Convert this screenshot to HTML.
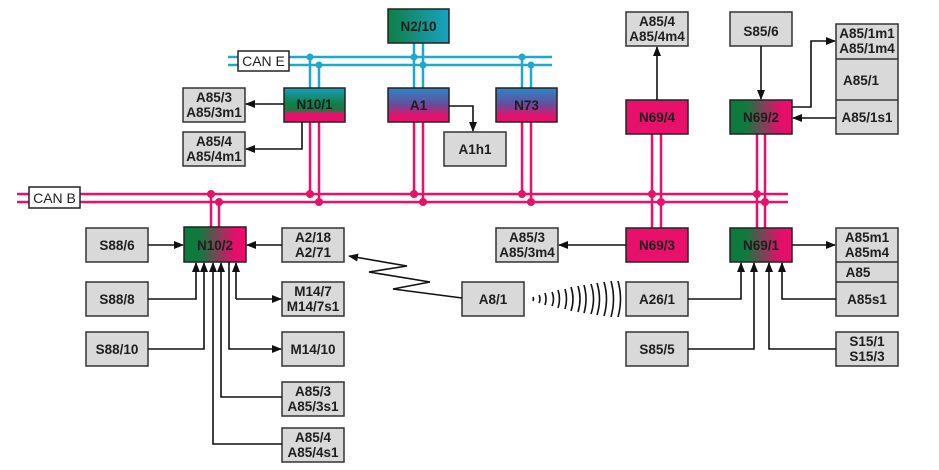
<!DOCTYPE html>
<html><head><meta charset="utf-8"><style>
html,body{margin:0;padding:0;background:#fff;}
svg{display:block;}
text{font-family:"Liberation Sans",Arial,sans-serif;font-weight:bold;font-size:13.5px;fill:#1e1e1e;text-anchor:middle;}
.b{fill:#d9d9d9;stroke:#333;stroke-width:1.5;}
.n{stroke:#222;stroke-width:1.5;}
.p{stroke:#e8106a;stroke-width:2.5;fill:none;}
.t{stroke:#1fa9c9;stroke-width:2.5;fill:none;}
.k{stroke:#111;stroke-width:1.6;fill:none;}
.w{stroke:#111;stroke-width:1.6;fill:none;}
</style></head><body>
<svg width="939" height="470" viewBox="0 0 939 470" xmlns="http://www.w3.org/2000/svg">
<defs>
<linearGradient id="gt" x1="0" x2="1" y1="0" y2="0"><stop offset="0" stop-color="#0e7f45"/><stop offset="1" stop-color="#17a4c4"/></linearGradient>
<linearGradient id="gp" x1="0" x2="1" y1="0" y2="0"><stop offset="0" stop-color="#0d7a3d"/><stop offset="0.25" stop-color="#0f7a3f"/><stop offset="0.8" stop-color="#e0106a"/><stop offset="1" stop-color="#ee0d6a"/></linearGradient>
<linearGradient id="gn" x1="0" x2="0" y1="0" y2="1"><stop offset="0" stop-color="#16a0c0"/><stop offset="0.45" stop-color="#127f48"/><stop offset="0.65" stop-color="#1a7a44"/><stop offset="0.75" stop-color="#e8106a"/><stop offset="1" stop-color="#e8106a"/></linearGradient>
<linearGradient id="gb" x1="0" x2="0" y1="0" y2="1"><stop offset="0" stop-color="#2a86c6"/><stop offset="0.5" stop-color="#6a4a9a"/><stop offset="0.8" stop-color="#e0146c"/><stop offset="1" stop-color="#e8106a"/></linearGradient>
<marker id="a" markerWidth="10" markerHeight="8" refX="9" refY="4" orient="auto" markerUnits="userSpaceOnUse"><path d="M0,0 L10,4 L0,8 Z" fill="#111"/></marker>
</defs>

<line class="t" x1="228" y1="57" x2="552" y2="57"/>
<line class="t" x1="228" y1="65" x2="552" y2="65"/>
<rect x="238" y="51" width="51" height="20" fill="#fff" stroke="#222" stroke-width="1.5"/>
<text x="263.5" y="66" style="font-weight:normal;font-size:14px">CAN E</text>
<line class="t" x1="414" y1="43" x2="414" y2="88"/><line class="t" x1="423" y1="43" x2="423" y2="88"/>
<line class="t" x1="310" y1="57" x2="310" y2="88"/><line class="t" x1="319" y1="65" x2="319" y2="88"/>
<line class="t" x1="522" y1="57" x2="522" y2="88"/><line class="t" x1="531" y1="65" x2="531" y2="88"/>
<g fill="#1fa9c9"><circle cx="310" cy="57" r="3.5"/><circle cx="319" cy="65" r="3.5"/><circle cx="414" cy="57" r="3.5"/><circle cx="423" cy="65" r="3.5"/><circle cx="522" cy="57" r="3.5"/><circle cx="531" cy="65" r="3.5"/></g>

<line class="p" x1="17" y1="194" x2="788" y2="194"/>
<line class="p" x1="17" y1="202" x2="788" y2="202"/>
<rect x="29" y="187" width="51" height="21" fill="#fff" stroke="#222" stroke-width="1.5"/>
<text x="54.5" y="203" style="font-weight:normal;font-size:14px">CAN B</text>
<line class="p" x1="310" y1="122" x2="310" y2="194"/><line class="p" x1="319" y1="122" x2="319" y2="202"/>
<line class="p" x1="414" y1="122" x2="414" y2="194"/><line class="p" x1="423" y1="122" x2="423" y2="202"/>
<line class="p" x1="522" y1="122" x2="522" y2="194"/><line class="p" x1="531" y1="122" x2="531" y2="202"/>
<line class="p" x1="211" y1="194" x2="211" y2="227"/><line class="p" x1="219" y1="202" x2="219" y2="227"/>
<line class="p" x1="652" y1="134" x2="652" y2="228"/><line class="p" x1="661" y1="134" x2="661" y2="228"/>
<line class="p" x1="757" y1="134" x2="757" y2="228"/><line class="p" x1="765" y1="134" x2="765" y2="228"/>
<g fill="#e8106a"><circle cx="310" cy="194" r="4"/><circle cx="319" cy="202" r="4"/><circle cx="414" cy="194" r="4"/><circle cx="423" cy="202" r="4"/><circle cx="522" cy="194" r="4"/><circle cx="531" cy="202" r="4"/><circle cx="211" cy="194" r="4"/><circle cx="219" cy="202" r="4"/><circle cx="652" cy="194" r="4"/><circle cx="661" cy="202" r="4"/><circle cx="757" cy="194" r="4"/><circle cx="765" cy="202" r="4"/></g>

<rect class="n" x="388" y="9" width="61" height="34" fill="url(#gt)"/><text x="418.5" y="31">N2/10</text>
<rect class="n" x="284" y="88" width="61" height="34" fill="url(#gn)"/><text x="314.5" y="109">N10/1</text>
<rect class="n" x="388" y="88" width="61" height="34" fill="url(#gb)"/><text x="418.5" y="110">A1</text>
<rect class="n" x="496" y="88" width="61" height="34" fill="url(#gb)"/><text x="526.5" y="110">N73</text>
<rect class="n" x="626" y="100" width="62" height="34" fill="#e8106a"/><text x="657" y="122">N69/4</text>
<rect class="n" x="730" y="100" width="62" height="34" fill="url(#gp)"/><text x="761" y="122">N69/2</text>
<rect class="n" x="184" y="227" width="62" height="35" fill="url(#gp)"/><text x="215" y="250">N10/2</text>
<rect class="n" x="626" y="228" width="62" height="34" fill="#e8106a"/><text x="657" y="250">N69/3</text>
<rect class="n" x="730" y="228" width="62" height="34" fill="url(#gp)"/><text x="761" y="250">N69/1</text>

<rect class="b" x="183" y="88" width="62" height="34"/><text x="214" y="102">A85/3</text><text x="214" y="117">A85/3m1</text>
<rect class="b" x="183" y="132" width="62" height="34"/><text x="214" y="146">A85/4</text><text x="214" y="161">A85/4m1</text>
<rect class="b" x="444" y="132" width="62" height="34"/><text x="475" y="154">A1h1</text>
<rect class="b" x="626" y="12" width="62" height="34"/><text x="657" y="26">A85/4</text><text x="657" y="41">A85/4m4</text>
<rect class="b" x="730" y="12" width="62" height="34"/><text x="761" y="36">S85/6</text>
<rect class="b" x="836" y="24" width="62" height="110"/>
<line x1="836" y1="59" x2="898" y2="59" stroke="#333" stroke-width="1.5"/><line x1="836" y1="100" x2="898" y2="100" stroke="#333" stroke-width="1.5"/>
<text x="867" y="38">A85/1m1</text><text x="867" y="53">A85/1m4</text><text x="861" y="85">A85/1</text><text x="867" y="122">A85/1s1</text>

<rect class="b" x="86" y="228" width="62" height="34"/><text x="117" y="250">S88/6</text>
<rect class="b" x="86" y="282" width="62" height="34"/><text x="117" y="304">S88/8</text>
<rect class="b" x="86" y="332" width="62" height="34"/><text x="117" y="354">S88/10</text>
<rect class="b" x="282" y="228" width="62" height="34"/><text x="313" y="242">A2/18</text><text x="313" y="257">A2/71</text>
<rect class="b" x="282" y="282" width="62" height="34"/><text x="313" y="296">M14/7</text><text x="313" y="311">M14/7s1</text>
<rect class="b" x="282" y="332" width="62" height="34"/><text x="313" y="354">M14/10</text>
<rect class="b" x="282" y="382" width="62" height="34"/><text x="313" y="396">A85/3</text><text x="313" y="411">A85/3s1</text>
<rect class="b" x="282" y="428" width="62" height="34"/><text x="313" y="442">A85/4</text><text x="313" y="457">A85/4s1</text>
<rect class="b" x="462" y="282" width="62" height="34"/><text x="493" y="304">A8/1</text>
<rect class="b" x="496" y="228" width="62" height="34"/><text x="527" y="242">A85/3</text><text x="527" y="257">A85/3m4</text>
<rect class="b" x="626" y="282" width="62" height="34"/><text x="657" y="304">A26/1</text>
<rect class="b" x="626" y="332" width="62" height="34"/><text x="657" y="354">S85/5</text>
<rect class="b" x="836" y="228" width="62" height="88"/>
<line x1="836" y1="262" x2="898" y2="262" stroke="#333" stroke-width="1.5"/><line x1="836" y1="282" x2="898" y2="282" stroke="#333" stroke-width="1.5"/>
<text x="867" y="242">A85m1</text><text x="867" y="257">A85m4</text><text x="858" y="277">A85</text><text x="867" y="304">A85s1</text>
<rect class="b" x="836" y="332" width="62" height="34"/><text x="867" y="346">S15/1</text><text x="867" y="361">S15/3</text>

<g class="k">
<line x1="284" y1="104" x2="246" y2="104" marker-end="url(#a)"/>
<polyline points="302,122 302,149 246,149" marker-end="url(#a)"/>
<polyline points="449,106 473,106 473,131" marker-end="url(#a)"/>
<line x1="657" y1="100" x2="657" y2="47" marker-end="url(#a)"/>
<line x1="761" y1="46" x2="761" y2="99" marker-end="url(#a)"/>
<polyline points="792,107 811,107 811,41 835,41" marker-end="url(#a)"/>
<line x1="836" y1="118" x2="793" y2="118" marker-end="url(#a)"/>
<line x1="148" y1="245" x2="183" y2="245" marker-end="url(#a)"/>
<line x1="282" y1="245" x2="247" y2="245" marker-end="url(#a)"/>
<polyline points="148,299 196,299 196,263" marker-end="url(#a)"/>
<polyline points="148,349 204,349 204,263" marker-end="url(#a)"/>
<polyline points="282,444 213,444 213,263" marker-end="url(#a)"/>
<polyline points="282,397 221,397 221,263" marker-end="url(#a)"/>
<polyline points="229,262 229,349 281,349" marker-end="url(#a)"/>
<line x1="236" y1="299" x2="281" y2="299" marker-end="url(#a)"/>
<line x1="236" y1="299" x2="236" y2="263" marker-end="url(#a)"/>
<polyline points="462,298 393,289 430,282 369,272 407,266 349,256" marker-end="url(#a)"/>
<line x1="626" y1="245" x2="559" y2="245" marker-end="url(#a)"/>
<line x1="792" y1="245" x2="835" y2="245" marker-end="url(#a)"/>
<polyline points="688,299 741,299 741,263" marker-end="url(#a)"/>
<polyline points="688,349 754,349 754,263" marker-end="url(#a)"/>
<polyline points="836,349 769,349 769,263" marker-end="url(#a)"/>
<polyline points="836,299 782,299 782,263" marker-end="url(#a)"/>
</g>
<g class="w" stroke-width="1.4">
<path d="M533,297 q1,2 0,4"/><path d="M539,295 q2,4 0,8"/><path d="M545,293 q2,6 0,12"/><path d="M552,292 q3,7 0,14"/><path d="M558,290 q3,9 0,18"/><path d="M565,289 q3,10 0,20"/><path d="M571,287 q4,12 0,24"/><path d="M578,286 q4,13 0,26"/><path d="M584,285 q4,14 0,28"/><path d="M591,284 q5,15 0,30"/><path d="M597,283 q5,16 0,32"/><path d="M604,282 q5,17 0,34"/><path d="M611,281 q5,18 0,36"/><path d="M618,281 q5,18 0,36"/>
</g>
</svg>
</body></html>
